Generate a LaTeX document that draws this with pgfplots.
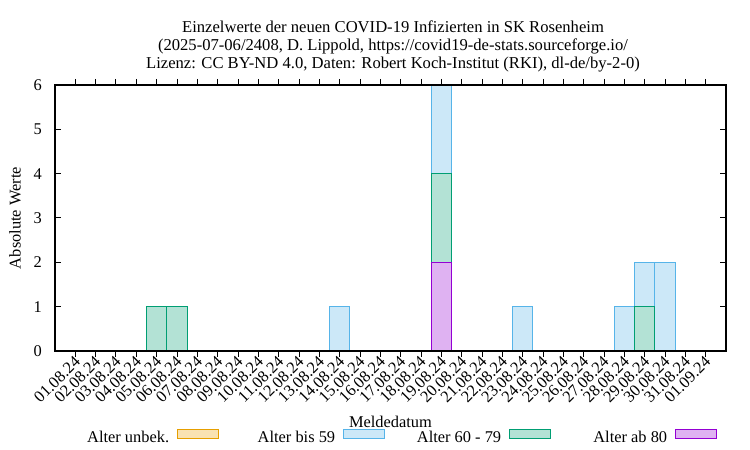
\documentclass[border=0pt]{standalone}
\usepackage{pgfplots}
\pgfplotsset{compat=1.18}
\usepackage{fontspec}
\setmainfont{Liberation Serif}
\definecolor{cunbekB}{HTML}{E69F00}
\definecolor{cunbekF}{RGB}{249,226,178}
\definecolor{cjB}{HTML}{56B4E9}
\definecolor{cjF}{RGB}{204,232,248}
\definecolor{cmB}{HTML}{009E73}
\definecolor{cmF}{RGB}{179,226,213}
\definecolor{caB}{HTML}{9400D3}
\definecolor{caF}{RGB}{223,178,242}
% cumulative stack tops (bottom: ab 80, then 60-79, then bis 59)
\pgfplotstableread{
x total
13 1
18 6
22 1
27 1
28 2
29 2
}\tbisfuenfzig
\pgfplotstableread{
x total
4 1
5 1
18 4
28 1
}\tsechzig
\pgfplotstableread{
x total
18 2
}\tachtzig
\begin{document}
\fontsize{16.4}{19}\selectfont
\begin{tikzpicture}[x=1pt,y=1pt]
\useasboundingbox (0,0) rectangle (750,450);
\begin{scope}[every node/.style={inner sep=0pt, anchor=base, font=\fontsize{16.6}{19}\selectfont}]
\node at (393,417.5) {Einzelwerte der neuen COVID-19 Infizierten in SK Rosenheim};
\node at (393,399.5) {(2025-07-06/2408, D. Lippold, https://covid19-de-stats.sourceforge.io/};
\node at (393,381.5) {Lizenz: CC BY-ND 4.0, Daten: Robert Koch-Institut (RKI), dl-de/by-2-0)};
\end{scope}
\begin{axis}[
  at={(55pt,99pt)}, anchor=south west,
  width=671pt, height=266pt, scale only axis,
  xmin=-1, xmax=32, ymin=0, ymax=6,
  ytick={0,1,2,3,4,5,6},
  xtick={0,...,31},
  xticklabels={01.08.24,02.08.24,03.08.24,04.08.24,05.08.24,06.08.24,07.08.24,08.08.24,09.08.24,10.08.24,11.08.24,12.08.24,13.08.24,14.08.24,15.08.24,16.08.24,17.08.24,18.08.24,19.08.24,20.08.24,21.08.24,22.08.24,23.08.24,24.08.24,25.08.24,26.08.24,27.08.24,28.08.24,29.08.24,30.08.24,31.08.24,01.09.24},
  xticklabel style={rotate=45, anchor=east, inner sep=1pt, yshift=-3pt, xshift=1pt},
  yticklabel style={inner sep=2pt, xshift=-11pt},
  tick align=inside,
  major tick length=6pt,
  tick style={black, line width=1pt},
  axis line style={line width=1.3pt},
  /pgf/number format/assume math mode=true,
  ylabel={Absolute Werte},
  ylabel style={at={(axis description cs:-0.0596,0.5)}, anchor=center},
  xlabel={Meldedatum},
  xlabel style={at={(axis description cs:0.5,0)}, anchor=base, yshift=-77pt},
  axis on top,
  ybar, bar width=1, bar shift=0pt,
  legend columns=4,
  legend plot pos=right,
  legend style={draw=none, fill=none, at={(0.0417,-0.2932)}, anchor=north west, inner sep=0pt,
    nodes={inner sep=0pt},
    /tikz/every odd column/.append style={column sep=7.7pt},
    /tikz/every even column/.append style={column sep=30.3pt}},
  legend image code/.code={\draw[#1, line width=1pt] (0pt,-0.7pt) rectangle (41pt,8.3pt);},
]
\addlegendimage{draw=cunbekB, fill=cunbekF}
\addlegendentry{\makebox[86pt][r]{Alter unbek.}}
\addplot[draw=cjB, fill=cjF, line width=1pt] table[x=x, y=total] {\tbisfuenfzig};
\addlegendentry{\makebox[86pt][r]{Alter bis 59}}
\addplot[draw=cmB, fill=cmF, line width=1pt] table[x=x, y=total] {\tsechzig};
\addlegendentry{\makebox[86pt][r]{Alter 60 - 79}}
\addplot[draw=caB, fill=caF, line width=1pt] table[x=x, y=total] {\tachtzig};
\addlegendentry{\makebox[86pt][r]{Alter ab 80}}
\end{axis}
\end{tikzpicture}
\end{document}
